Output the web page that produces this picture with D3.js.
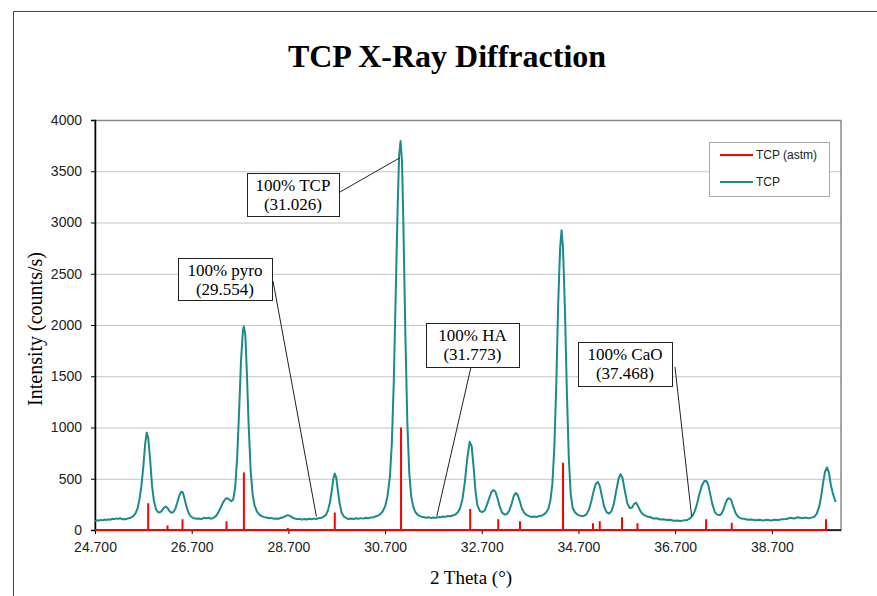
<!DOCTYPE html>
<html>
<head>
<meta charset="utf-8">
<script src="https://cdn.jsdelivr.net/npm/d3@7"></script>
<style>
  body { margin: 0; background: #fff; }
  svg { display: block; }
</style>
</head>
<body>
<svg id="chart" width="877" height="596"></svg>
<script>
// Chart data
const chartTitle = "TCP X-Ray Diffraction";
const xTitle = "2 Theta (°)";
const yTitle = "Intensity (counts/s)";
const xTicks = [24.7, 26.7, 28.7, 30.7, 32.7, 34.7, 36.7, 38.7];
const yTicks = [0, 500, 1000, 1500, 2000, 2500, 3000, 3500, 4000];

// reference (astm) stick positions and heights
const astmTheta = [25.80, 26.20, 26.51, 27.42, 27.78, 28.69, 29.66, 31.03, 32.46, 33.04,
  33.49, 34.38, 35.00, 35.14, 35.60, 35.92, 37.34, 37.87, 39.82];
const astmCounts = [260, 45, 105, 85, 560, 20, 170, 1000, 205, 105,
  85, 655, 65, 85, 125, 65, 105, 70, 105];

// measured TCP scan [2theta, counts]
const tcpScan = [
  [24.70, 88], [24.74, 94], [24.78, 92], [24.82, 99], [24.86, 94], [24.90, 102], [24.94, 98], [24.98, 104],
  [25.02, 101], [25.06, 110], [25.10, 106], [25.14, 113], [25.18, 109], [25.22, 115], [25.26, 105], [25.30, 108],
  [25.34, 104], [25.38, 113], [25.42, 116], [25.46, 125], [25.50, 140], [25.54, 165], [25.58, 210], [25.62, 300],
  [25.66, 430], [25.70, 620], [25.74, 850], [25.77, 950], [25.80, 900], [25.84, 690], [25.88, 430], [25.92, 280],
  [25.96, 205], [26.00, 175], [26.04, 170], [26.08, 185], [26.12, 215], [26.16, 228], [26.20, 215], [26.24, 185],
  [26.28, 168], [26.32, 175], [26.36, 205], [26.40, 265], [26.44, 330], [26.48, 372], [26.51, 370], [26.54, 330],
  [26.58, 250], [26.62, 185], [26.66, 145], [26.70, 125], [26.75, 115], [26.80, 109], [26.85, 112], [26.90, 106],
  [26.95, 119], [27.00, 114], [27.05, 120], [27.10, 110], [27.15, 118], [27.20, 135], [27.25, 170], [27.30, 220],
  [27.35, 270], [27.40, 305], [27.44, 310], [27.48, 295], [27.52, 280], [27.56, 300], [27.60, 420], [27.64, 700],
  [27.68, 1150], [27.72, 1650], [27.76, 1950], [27.78, 1985], [27.81, 1900], [27.84, 1550], [27.88, 1000], [27.92, 580],
  [27.96, 350], [28.00, 240], [28.05, 180], [28.10, 150], [28.15, 135], [28.20, 125], [28.25, 122], [28.30, 114],
  [28.35, 118], [28.40, 109], [28.45, 113], [28.50, 110], [28.55, 119], [28.60, 125], [28.65, 138], [28.69, 145],
  [28.73, 138], [28.78, 122], [28.83, 112], [28.88, 106], [28.93, 109], [28.98, 101], [29.03, 107], [29.08, 102],
  [29.13, 110], [29.18, 104], [29.23, 111], [29.28, 108], [29.33, 116], [29.38, 118], [29.43, 130], [29.48, 150],
  [29.52, 195], [29.56, 270], [29.60, 390], [29.63, 500], [29.66, 550], [29.69, 510], [29.72, 400], [29.76, 260],
  [29.80, 170], [29.85, 130], [29.90, 115], [29.95, 108], [30.00, 112], [30.05, 107], [30.10, 114], [30.15, 109],
  [30.20, 116], [30.25, 111], [30.30, 119], [30.35, 114], [30.40, 121], [30.45, 123], [30.50, 132], [30.55, 140],
  [30.60, 155], [30.65, 180], [30.70, 230], [30.75, 330], [30.80, 520], [30.84, 850], [30.88, 1450], [30.92, 2300],
  [30.96, 3150], [30.99, 3650], [31.02, 3795], [31.05, 3600], [31.08, 2950], [31.12, 1900], [31.16, 1050], [31.20, 560],
  [31.24, 330], [31.28, 230], [31.32, 180], [31.36, 155], [31.40, 140], [31.45, 130], [31.50, 125], [31.55, 119],
  [31.60, 124], [31.65, 116], [31.70, 122], [31.75, 119], [31.80, 126], [31.85, 124], [31.90, 132], [31.95, 128],
  [32.00, 137], [32.05, 134], [32.10, 142], [32.15, 150], [32.20, 170], [32.25, 210], [32.30, 300], [32.35, 470],
  [32.40, 700], [32.45, 860], [32.49, 820], [32.53, 620], [32.57, 380], [32.61, 240], [32.66, 185], [32.71, 175],
  [32.76, 190], [32.81, 250], [32.86, 320], [32.90, 370], [32.94, 390], [32.98, 375], [33.02, 320], [33.07, 230],
  [33.12, 170], [33.17, 150], [33.22, 155], [33.27, 190], [33.32, 260], [33.36, 330], [33.40, 360], [33.44, 345],
  [33.48, 290], [33.53, 210], [33.58, 165], [33.63, 145], [33.68, 135], [33.73, 127], [33.78, 132], [33.83, 126],
  [33.88, 136], [33.93, 138], [33.98, 150], [34.03, 170], [34.08, 210], [34.12, 290], [34.16, 450], [34.20, 800],
  [34.24, 1400], [34.28, 2200], [34.32, 2750], [34.35, 2925], [34.38, 2750], [34.42, 2150], [34.46, 1350], [34.50, 700],
  [34.54, 350], [34.58, 215], [34.63, 170], [34.68, 150], [34.74, 138], [34.80, 135], [34.86, 150], [34.92, 200],
  [34.97, 290], [35.02, 390], [35.06, 450], [35.10, 470], [35.14, 430], [35.18, 340], [35.23, 230], [35.28, 175],
  [35.33, 160], [35.38, 180], [35.43, 250], [35.48, 380], [35.53, 500], [35.57, 545], [35.61, 510], [35.66, 380],
  [35.71, 260], [35.76, 215], [35.81, 220], [35.85, 255], [35.89, 265], [35.93, 235], [35.98, 185], [36.03, 155],
  [36.08, 140], [36.13, 130], [36.18, 127], [36.25, 112], [36.32, 114], [36.39, 103], [36.46, 104], [36.53, 98],
  [36.60, 100], [36.67, 90], [36.74, 93], [36.81, 87], [36.88, 94], [36.95, 98], [37.00, 110], [37.05, 135],
  [37.10, 175], [37.15, 250], [37.20, 350], [37.25, 430], [37.30, 475], [37.34, 480], [37.38, 450], [37.42, 360],
  [37.47, 250], [37.52, 175], [37.57, 150], [37.62, 145], [37.66, 160], [37.70, 200], [37.74, 260], [37.78, 300],
  [37.82, 310], [37.86, 290], [37.90, 230], [37.95, 165], [38.00, 130], [38.06, 112], [38.12, 109], [38.20, 100],
  [38.28, 103], [38.36, 95], [38.44, 101], [38.52, 93], [38.60, 99], [38.68, 92], [38.76, 99], [38.84, 98],
  [38.92, 106], [39.00, 108], [39.08, 119], [39.16, 112], [39.24, 124], [39.32, 115], [39.40, 121], [39.46, 114],
  [39.52, 121], [39.58, 130], [39.63, 160], [39.68, 230], [39.72, 330], [39.76, 460], [39.80, 570], [39.84, 610],
  [39.88, 560], [39.92, 440], [39.96, 360], [40.00, 300], [40.02, 275]
];

// annotation labels and the point each leader line touches [2theta, counts]
const noteLabels = [["100% TCP", "(31.026)"], ["100% pyro", "(29.554)"], ["100% HA", "(31.773)"], ["100% CaO", "(37.468)"]];
const noteTargets = [[31.0, 3630], [29.28, 130], [31.77, 135], [37.04, 135]];

const legendNames = ["TCP (astm)", "TCP"];
const colors = { astm: "#ff0000", tcp: "#1b8b8b" };

const svg = d3.select("#chart");
const W = +svg.attr("width"), H = +svg.attr("height");
const plot = { left: 95, right: 841, top: 120, bottom: 530 };

const x = d3.scaleLinear().domain([24.7, 40.13]).range([plot.left, plot.right]);
const y = d3.scaleLinear().domain([0, 4000]).range([plot.bottom, plot.top]);

// outer chart frame (top and left edges visible)
svg.append("path")
  .attr("d", `M13.5,${H} L13.5,11.5 L${W},11.5`)
  .attr("fill", "none").attr("stroke", "#444").attr("stroke-width", 1);

// title
svg.append("text")
  .attr("x", 447).attr("y", 67)
  .attr("text-anchor", "middle")
  .style("font-family", "'Liberation Serif', 'Times New Roman', serif")
  .style("font-weight", "bold").style("font-size", "32px")
  .text(chartTitle);

// gridlines
svg.append("g").selectAll("line")
  .data(yTicks.filter(d => d > 0))
  .enter().append("line")
  .attr("x1", plot.left).attr("x2", plot.right)
  .attr("y1", d => y(d) + 0.5).attr("y2", d => y(d) + 0.5)
  .attr("stroke", "#c4c4c4").attr("stroke-width", 1);

// plot border
svg.append("rect")
  .attr("x", plot.left).attr("y", plot.top + 0.5)
  .attr("width", plot.right - plot.left).attr("height", plot.bottom - plot.top)
  .attr("fill", "none").attr("stroke", "#8a8a8a").attr("stroke-width", 1.5);

// axes
const yAxis = d3.axisLeft(y).tickValues(yTicks).tickSize(4).tickPadding(9).tickFormat(d3.format("d"));
const xAxis = d3.axisBottom(x).tickValues(xTicks).tickSize(4).tickPadding(8).tickFormat(d3.format(".3f"));

const gy = svg.append("g").attr("transform", `translate(${plot.left},0)`).call(yAxis);
const gx = svg.append("g").attr("transform", `translate(0,${plot.bottom})`).call(xAxis);
[gx, gy].forEach(g => {
  g.select(".domain").attr("stroke", "#000").attr("stroke-width", 1.5);
  g.selectAll(".tick line").attr("stroke", "#000");
  g.selectAll("text")
    .style("font-family", "'Liberation Sans', Arial, sans-serif")
    .style("font-size", "14px").attr("fill", "#222");
});
gx.select(".domain").attr("d", `M${plot.left},0H${plot.right}`);

// axis titles
svg.append("text")
  .attr("x", 471).attr("y", 584)
  .attr("text-anchor", "middle")
  .style("font-family", "'Liberation Serif', 'Times New Roman', serif")
  .style("font-size", "19px")
  .text(xTitle);

svg.append("text")
  .attr("transform", "translate(42,329) rotate(-90)")
  .attr("text-anchor", "middle")
  .style("font-family", "'Liberation Serif', 'Times New Roman', serif")
  .style("font-size", "20px")
  .text(yTitle);

// astm sticks drawn as one line returning to zero between peaks
const astmPts = [[24.7, 0]];
astmTheta.forEach((t, i) => {
  astmPts.push([t, 0], [t, astmCounts[i]], [t, 0]);
});
const line = d3.line().x(d => x(d[0])).y(d => y(d[1]));

svg.append("path")
  .datum(astmPts)
  .attr("fill", "none")
  .attr("stroke", colors.astm).attr("stroke-width", 2)
  .attr("d", line);

svg.append("path")
  .datum(tcpScan)
  .attr("fill", "none")
  .attr("stroke", colors.tcp).attr("stroke-width", 2)
  .attr("stroke-linejoin", "round")
  .attr("d", line);

// annotation boxes: [x, y, w, h] in px and the point where leader starts
const boxes = [
  { box: [247, 173, 92, 43], from: [340, 192] },
  { box: [178, 258, 94, 42], from: [273, 281] },
  { box: [426, 323, 93, 44], from: [471, 367] },
  { box: [578, 342, 94, 44], from: [675, 367] }
];

boxes.forEach((b, i) => {
  const tgt = noteTargets[i];
  svg.append("line")
    .attr("x1", b.from[0]).attr("y1", b.from[1])
    .attr("x2", x(tgt[0])).attr("y2", y(tgt[1]))
    .attr("stroke", "#222").attr("stroke-width", 1);
  svg.append("rect")
    .attr("x", b.box[0] + 0.5).attr("y", b.box[1] + 0.5)
    .attr("width", b.box[2]).attr("height", b.box[3])
    .attr("fill", "#fff").attr("stroke", "#222").attr("stroke-width", 1);
  const t = svg.append("text")
    .attr("text-anchor", "middle")
    .style("font-family", "'Liberation Serif', 'Times New Roman', serif")
    .style("font-size", "17px");
  noteLabels[i].forEach((s, j) => {
    t.append("tspan")
      .attr("x", b.box[0] + b.box[2] / 2)
      .attr("y", b.box[1] + 18 + j * 19)
      .text(s);
  });
});

// legend
const lg = svg.append("g").attr("transform", "translate(709,142)");
lg.append("rect")
  .attr("x", 0.5).attr("y", 0.5).attr("width", 120).attr("height", 54)
  .attr("fill", "#fff").attr("stroke", "#aaa");
[colors.astm, colors.tcp].forEach((c, i) => {
  const yy = 13 + i * 27;
  lg.append("line")
    .attr("x1", 11).attr("x2", 44).attr("y1", yy).attr("y2", yy)
    .attr("stroke", c).attr("stroke-width", 2);
  lg.append("text")
    .attr("x", 47).attr("y", yy + 4)
    .style("font-family", "'Liberation Sans', Arial, sans-serif")
    .style("font-size", "12px").attr("fill", "#222")
    .text(legendNames[i]);
});
</script>
</body>
</html>
